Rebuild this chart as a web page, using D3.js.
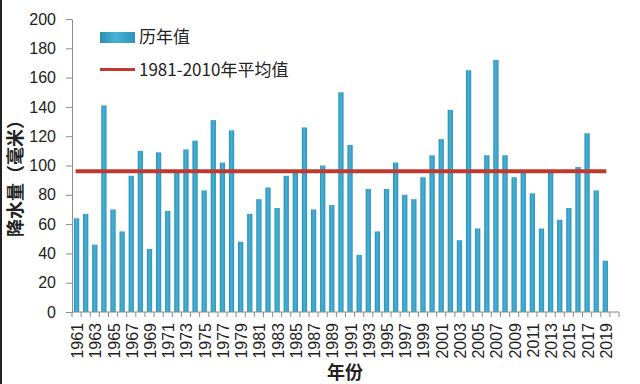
<!DOCTYPE html>
<html>
<head>
<meta charset="utf-8">
<script src="https://cdn.jsdelivr.net/npm/d3@7"></script>
<style>
  body { margin: 0; background: #fff; }
  svg { display: block; }
</style>
</head>
<body>
<svg id="chart" width="640" height="384"></svg>
<script>
// yearly precipitation, 1961-2019
var years = d3.range(1961, 2021); // 2020 slot is left empty, as in the source
var values = [64, 67, 46, 141, 70, 55, 93, 110, 43, 109,
              69, 95, 111, 117, 83, 131, 102, 124, 48, 67,
              77, 85, 71, 93, 95, 126, 70, 100, 73, 150,
              114, 39, 84, 55, 84, 102, 80, 77, 92, 107,
              118, 138, 49, 165, 57, 107, 172, 107, 92, 95,
              81, 57, 97, 63, 71, 99, 122, 83, 35];
var normal = 96; // 1981-2010 mean
var yTicks = [0, 20, 40, 60, 80, 100, 120, 140, 160, 180, 200];
var xLabels = d3.range(1961, 2020, 2);

var svg = d3.select("#chart");
var plotLeft = 72, plotRight = 619, plotTop = 19, plotBottom = 312;

var x = d3.scaleBand().domain(years).range([plotLeft, plotRight]).paddingInner(0.42).paddingOuter(0.21);
var y = d3.scaleLinear().domain([0, 200]).range([plotBottom, plotTop]);

var defs = svg.append("defs");
var grad = defs.append("linearGradient").attr("id", "barGrad").attr("x1", "0").attr("x2", "1").attr("y1", "0").attr("y2", "0");
grad.append("stop").attr("offset", "0%").attr("stop-color", "#2a8db2");
grad.append("stop").attr("offset", "45%").attr("stop-color", "#45b3d6");
grad.append("stop").attr("offset", "100%").attr("stop-color", "#2f93b8");

// frame edge on the left
svg.append("line").attr("x1", 1).attr("x2", 1).attr("y1", 0).attr("y2", 384)
   .style("stroke", "#222").style("stroke-width", 2);

// bars
svg.append("g").selectAll("rect")
   .data(values)
   .enter()
   .append("rect")
   .attr("x", function(d, i){ return x(years[i]); })
   .attr("y", function(d){ return y(d); })
   .attr("width", x.bandwidth())
   .attr("height", function(d){ return y(0) - y(d); })
   .style("fill", "url(#barGrad)");

// average line, from first to last bar centre
var half = x.bandwidth() / 2;
svg.append("line")
   .attr("x1", x(1961) + half - 1)
   .attr("x2", x(2019) + half + 1)
   .attr("y1", y(normal))
   .attr("y2", y(normal))
   .style("stroke", "#c0392e")
   .style("stroke-width", 4);

// y axis
var yAxis = d3.axisLeft(y).tickValues(yTicks).tickSize(6).tickPadding(10).tickSizeOuter(0);
var gy = svg.append("g").attr("transform", "translate(" + plotLeft + ",0)").call(yAxis);
gy.select(".domain").style("stroke", "#8c8c8c");
gy.selectAll(".tick line").style("stroke", "#8c8c8c");
gy.selectAll(".tick text")
  .style("font-family", "Liberation Sans, Arial, sans-serif")
  .style("font-size", "16px")
  .style("fill", "#222");

// x axis: line, boundary ticks, odd-year labels
var step = x.step();
var gx = svg.append("g");
gx.append("line").attr("x1", plotLeft).attr("x2", plotRight).attr("y1", plotBottom).attr("y2", plotBottom)
  .style("stroke", "#8c8c8c");
gx.selectAll("line.tk")
  .data(d3.range(0, years.length + 1))
  .enter()
  .append("line")
  .attr("class", "tk")
  .attr("x1", function(k){ return plotLeft + k * step; })
  .attr("x2", function(k){ return plotLeft + k * step; })
  .attr("y1", plotBottom)
  .attr("y2", plotBottom + 5)
  .style("stroke", "#8c8c8c");
gx.selectAll("text")
  .data(xLabels)
  .enter()
  .append("text")
  .attr("transform", function(d){ return "translate(" + (x(d) + half + 6.5) + "," + (plotBottom + 11) + ") rotate(-90)"; })
  .attr("text-anchor", "end")
  .style("font-family", "Liberation Sans, Arial, sans-serif")
  .style("font-size", "16px")
  .style("fill", "#222")
  .text(function(d){ return d; });

// axis titles
svg.append("text")
   .attr("transform", "translate(22,174) rotate(-90)")
   .attr("text-anchor", "middle")
   .style("font-family", "Noto Sans CJK SC, sans-serif")
   .style("font-weight", "bold")
   .style("font-size", "18px")
   .style("fill", "#222")
   .text("降水量（毫米）");

svg.append("text")
   .attr("x", 345)
   .attr("y", 379)
   .attr("text-anchor", "middle")
   .style("font-family", "Noto Sans CJK SC, sans-serif")
   .style("font-weight", "bold")
   .style("font-size", "18px")
   .style("fill", "#222")
   .text("年份");

// legend
var legend = svg.append("g");
legend.append("rect").attr("x", 100).attr("y", 32).attr("width", 35).attr("height", 11)
      .style("fill", "url(#barGrad)");
legend.append("text").attr("x", 139).attr("y", 43)
      .style("font-family", "Noto Sans CJK SC, sans-serif").style("font-size", "17px").style("fill", "#222")
      .text("历年值");
legend.append("line").attr("x1", 100).attr("x2", 135).attr("y1", 69.5).attr("y2", 69.5)
      .style("stroke", "#c0392e").style("stroke-width", 3);
legend.append("text").attr("x", 139).attr("y", 76)
      .style("font-family", "Noto Sans CJK SC, sans-serif").style("font-size", "17px").style("fill", "#222")
      .text("1981-2010年平均值");
</script>
</body>
</html>
